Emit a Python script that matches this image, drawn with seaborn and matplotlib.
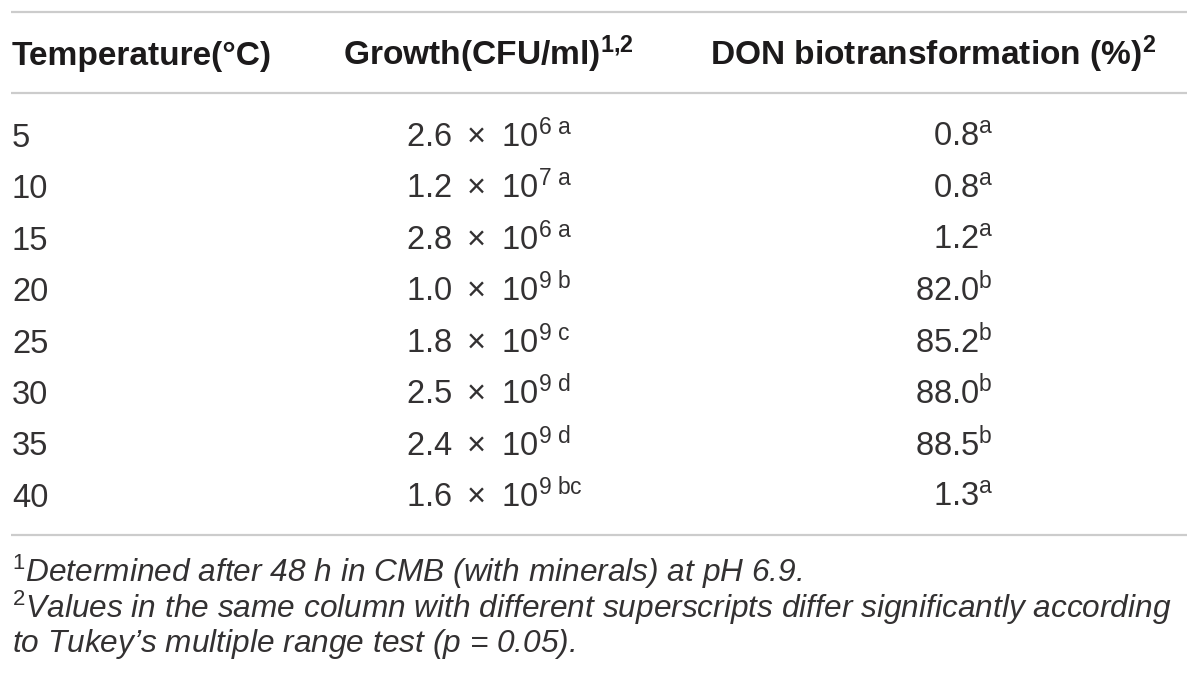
import matplotlib
matplotlib.use("Agg")
import matplotlib.pyplot as plt
import seaborn as sns

sns.set_theme(style="white")
plt.rcParams['font.family'] = ['Liberation Sans', 'DejaVu Sans']
plt.rcParams['mathtext.fontset'] = 'custom'
plt.rcParams['mathtext.rm'] = 'Liberation Sans'
plt.rcParams['mathtext.it'] = 'Liberation Sans:italic'
plt.rcParams['mathtext.bf'] = 'Liberation Sans:bold'
plt.rcParams['mathtext.default'] = 'regular'

# table data
temperaturas = [5, 10, 15, 20, 25, 30, 35, 40]
cresc_mantissa = [2.6, 1.2, 2.8, 1.0, 1.8, 2.5, 2.4, 1.6]
cresc_expoente = [6, 7, 6, 9, 9, 9, 9, 9]
cresc_letras = ['a', 'a', 'a', 'b', 'c', 'd', 'd', 'bc']
don_valores = [0.8, 0.8, 1.2, 82.0, 85.2, 88.0, 88.5, 1.3]
don_letras = ['a', 'a', 'a', 'b', 'b', 'b', 'b', 'a']

cabecalhos = ['Temperature(°C)', 'Growth(CFU/ml)$^{1{,}2}$', 'DON biotransformation (%)$^{2}$']
notas = [
    '$^{\\mathrm{1}}$Determined after 48 h in CMB (with minerals) at pH 6.9.',
    '$^{\\mathrm{2}}$Values in the same column with different superscripts differ significantly according',
    'to Tukey\u2019s multiple range test ($p$ = 0.05).',
]

cor_cab = '#1c1a1b'
cor_texto = '#333132'
cor_linha = '#cccccc'

fig = plt.figure(figsize=(12, 6.89), dpi=100)
ax = fig.add_axes([0, 0, 1, 1])
ax.set_xlim(0, 1200)
ax.set_ylim(689, 0)
ax.axis('off')

# rules
for y in [12, 93, 535]:
    ax.plot([11, 1187], [y, y], color=cor_linha, lw=1.6, solid_capstyle='butt')

# header
tam_cab = 24.1
for x, cab in zip([12, 343, 710], cabecalhos):
    ax.text(x, 65, cab, fontsize=tam_cab, fontweight='bold', color=cor_cab, va='baseline', ha='left')

# rows
tam_corpo = 23.5
y0, passo = 147, 51.4
for i, t in enumerate(temperaturas):
    y = y0 + i * passo
    ax.text(12, y, str(t), fontsize=tam_corpo, color=cor_texto, va='baseline', ha='left')
    txt = (f'{cresc_mantissa[i]:.1f} \u2009×\u2009 10'
           f'$^{{{cresc_expoente[i]}\\ \\mathrm{{{cresc_letras[i]}}}}}$')
    ax.text(406, y, txt, fontsize=tam_corpo, color=cor_texto, va='baseline', ha='left')
    txt3 = f'{don_valores[i]:.1f}$^{{\\mathrm{{{don_letras[i]}}}}}$'
    ax.text(993, y, txt3, fontsize=tam_corpo, color=cor_texto, va='baseline', ha='right')

# footnotes
tam_nota = 22.8
for y, nota in zip([582, 618, 652], notas):
    ax.text(12, y, nota, fontsize=tam_nota, style='italic', color=cor_texto, va='baseline', ha='left')

fig.savefig('out.png', dpi=100, facecolor='white')
